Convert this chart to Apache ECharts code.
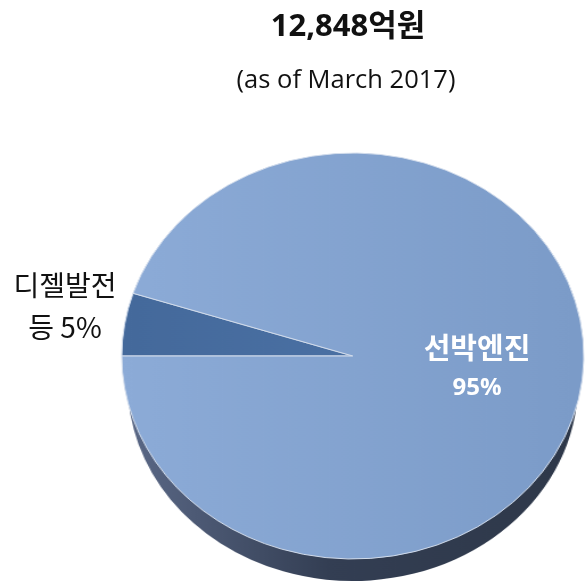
<!DOCTYPE html>
<html><head><meta charset="utf-8">
<script src="https://cdn.jsdelivr.net/npm/echarts@6/dist/echarts.min.js"></script>
<style>
html,body{margin:0;padding:0;background:#fff;}
#wrap{position:relative;width:585px;height:585px;overflow:hidden;}
#pie{position:absolute;left:0;top:0;width:514px;height:585px;transform:scaleX(1.138);transform-origin:0 0;}
#txt{position:absolute;left:0;top:0;width:585px;height:585px;}
</style></head><body>
<div id="wrap"><div id="pie"></div><div id="txt"></div></div>
<script>
// Data
const categories = ['디젤발전 등', '선박엔진'];
const values = [5, 95];
const titleText = '12,848억원';
const subtitleText = '(as of March 2017)';

const sliceColors = [
  {type:'linear',x:0,y:0,x2:1,y2:0,colorStops:[{offset:0,color:'#44699b'},{offset:1,color:'#4a70a3'}]},
  {type:'linear',x:0,y:0,x2:1,y2:0,colorStops:[{offset:0,color:'#8cabd7'},{offset:1,color:'#7b9bc8'}]}
];
const rimColor = {type:'linear',x:0,y:0,x2:1,y2:0,colorStops:[{offset:0,color:'#5a6886'},{offset:0.45,color:'#333e53'},{offset:1,color:'#2e3849'}]};

const pieData = categories.map((c,i)=>({name:c, value:values[i], itemStyle:{color:sliceColors[i]}}));
const rimData = categories.map((c,i)=>({name:c, value:values[i]}));

const pieChart = echarts.init(document.getElementById('pie'), null, {renderer:'canvas'});
pieChart.setOption({
  animation:false,
  series:[
    {type:'pie', silent:true, center:[310,383], radius:198, startAngle:180, clockwise:true, z:1,
     label:{show:false}, labelLine:{show:false},
     itemStyle:{color:rimColor, borderWidth:0}, data:rimData},
    {type:'pie', silent:true, center:[310,356], radius:203, startAngle:180, clockwise:true, z:2,
     label:{show:false}, labelLine:{show:false},
     itemStyle:{borderColor:'#d3ddec', borderWidth:1}, data:pieData}
  ]
});

const txtChart = echarts.init(document.getElementById('txt'), null, {renderer:'canvas'});
txtChart.setOption({
  animation:false,
  graphic:[
    {type:'text', x:348, y:27, style:{text:titleText, textAlign:'center', textVerticalAlign:'middle', fill:'#111', font:'bold 31px "Open Sans", "Noto Sans CJK KR"'}},
    {type:'text', x:346, y:81, style:{text:subtitleText, textAlign:'center', textVerticalAlign:'middle', fill:'#111', font:'25.5px "Open Sans"'}}
  ],
  series:[{
    type:'pie', silent:true, center:[353,356], radius:203, startAngle:180, clockwise:true,
    avoidLabelOverlap:false,
    itemStyle:{color:'rgba(0,0,0,0)'},
    labelLine:{show:false},
    data: categories.map((c,i)=>({
      name:c, value:values[i],
      label: i===0 ? {
        show:true, position:'outside',
        formatter:(p)=>p.name.replace(' ','\n')+' '+p.value+'%',
        color:'#111', fontSize:28, lineHeight:42, fontFamily:'"Noto Sans CJK KR"', align:'center'
      } : {
        show:true, position:'inside',
        formatter:(p)=>'{a|'+p.name+'}\n{b|'+p.value+'%}',
        rich:{
          a:{color:'#fff', fontSize:29, fontWeight:'bold', lineHeight:40, fontFamily:'"Noto Sans CJK KR"'},
          b:{color:'#fff', fontSize:24, fontWeight:'bold', lineHeight:40, fontFamily:'"Open Sans"'}
        }
      }
    })),
    labelLayout:function(p){
      if (p.dataIndex===0) return {x:65, y:306, align:'center', verticalAlign:'middle'};
      return {x:477, y:368, align:'center', verticalAlign:'middle'};
    }
  }]
});
</script>
</body></html>
